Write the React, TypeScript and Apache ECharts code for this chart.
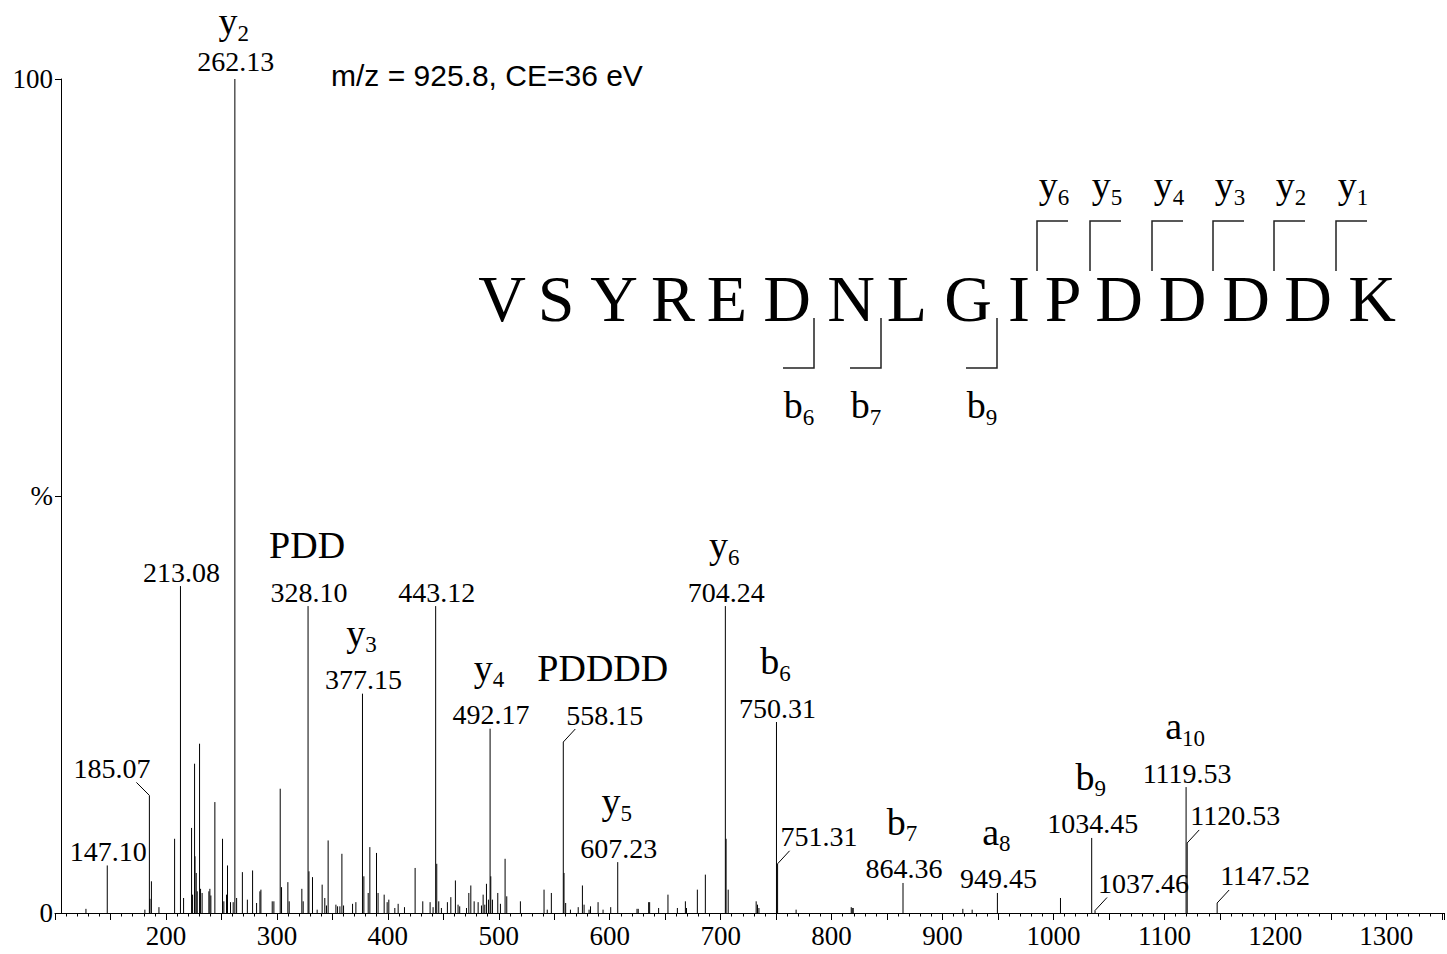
import React, { useEffect, useRef } from "react";
import * as echarts from "echarts";

// ---------------- data ----------------
const peakMz = [
  127.9, 147.1, 181.0, 185.07, 185.6, 186.9, 193.7, 207.8, 213.08, 215.9,
  223.1, 224.0, 225.8, 226.2, 227.3, 228.2, 230.3, 231.2, 232.6, 238.7,
  239.6, 240.5, 244.1, 251.0, 252.2, 254.6, 255.5, 258.2, 260.6, 262.13,
  263.7, 268.9, 273.4, 278.1, 281.7, 284.7, 285.6, 295.8, 297.3, 303.0,
  304.2, 309.9, 311.1, 322.5, 323.7, 328.1, 328.9, 332.1, 336.3, 340.8,
  343.2, 344.7, 346.2, 353.2, 354.7, 356.8, 358.6, 360.1, 368.2, 371.2,
  377.15, 378.4, 382.3, 383.8, 389.8, 391.2, 396.7, 399.4, 400.9, 406.3,
  409.3, 415.0, 424.6, 431.5, 438.1, 440.8, 443.12, 444.1, 445.9, 448.3,
  453.7, 456.8, 460.9, 463.3, 464.8, 470.9, 473.0, 474.8, 477.8, 481.4,
  484.4, 485.9, 487.4, 488.9, 490.7, 492.17, 492.8, 494.3, 499.1, 501.5,
  505.7, 507.2, 519.5, 540.8, 543.7, 547.4, 558.15, 558.8, 560.3, 564.6,
  571.6, 575.4, 576.9, 581.4, 582.7, 589.5, 594.0, 600.9, 607.23, 624.6,
  625.7, 635.1, 636.0, 644.1, 652.5, 661.0, 668.2, 669.2, 679.0, 686.2,
  704.24, 704.9, 706.8, 732.0, 733.2, 734.5, 750.31, 751.31, 768.0, 817.7,
  818.6, 819.5, 864.36, 918.3, 926.7, 949.45, 1006.3, 1034.45, 1037.46, 1119.53,
  1120.53, 1147.52,
];
const peakIntensity = [
  0.5, 5.7, 0.4, 14.1, 1.7, 3.8, 0.7, 8.9, 39.2, 1.8,
  10.2, 2.2, 17.9, 6.8, 4.8, 2.6, 20.3, 2.9, 2.4, 2.6,
  2.9, 2.1, 13.3, 8.9, 1.4, 2.2, 5.7, 1.3, 1.3, 100,
  1.8, 4.9, 1.6, 5.1, 1.2, 2.6, 2.8, 1.4, 1.4, 14.9,
  3.1, 3.7, 1.4, 2.9, 1.4, 36.8, 5.0, 4.3, 0.4, 3.4,
  1.8, 0.9, 8.7, 1.0, 0.8, 0.8, 7.1, 0.9, 1.1, 1.3,
  26.3, 4.4, 2.4, 7.9, 7.2, 2.4, 2.2, 1.3, 1.6, 0.6,
  1.1, 0.7, 5.4, 1.4, 1.3, 0.7, 36.8, 5.9, 1.4, 0.6,
  1.3, 1.9, 3.9, 1.0, 0.8, 0.6, 2.4, 3.3, 1.4, 1.3,
  0.9, 2.2, 1.0, 3.5, 1.6, 22.1, 4.4, 1.6, 2.4, 1.1,
  6.5, 2.0, 1.4, 2.8, 0.4, 2.4, 20.5, 4.8, 1.2, 0.4,
  0.7, 3.3, 1.0, 0.4, 0.8, 1.3, 0.4, 0.7, 6.1, 0.5,
  0.5, 1.3, 1.3, 0.6, 2.2, 0.6, 1.4, 0.6, 2.8, 4.6,
  36.8, 8.9, 2.8, 1.4, 1.0, 0.6, 22.9, 5.9, 0.4, 0.7,
  0.6, 0.6, 3.6, 0.5, 0.4, 2.4, 1.8, 9.0, 0.3, 15.1,
  8.4, 1.2,
];

const labelMz = [
  147.1, 185.07, 213.08, 262.13, 328.1, 377.15, 443.12, 492.17, 558.15, 607.23,
  704.24, 750.31, 751.31, 864.36, 949.45, 1034.45, 1037.46, 1119.53, 1120.53, 1147.52,
];
const labelIntensity = [
  5.7, 14.1, 39.2, 100, 36.8, 26.3, 36.8, 22.1, 20.5, 6.1,
  36.8, 22.9, 5.9, 3.6, 2.4, 9.0, 0.3, 15.1, 8.4, 1.2,
];
const labelText = [
  "147.10", "185.07", "213.08", "262.13", "328.10", "377.15", "443.12", "492.17", "558.15", "607.23",
  "704.24", "750.31", "751.31", "864.36", "949.45", "1034.45", "1037.46", "1119.53", "1120.53", "1147.52",
];
const ionName = ["", "", "", "y", "PDD", "y", "", "y", "PDDDD", "y", "y", "b", "", "b", "a", "b", "", "a", "", ""];
const ionSub = ["", "", "", "2", "", "3", "", "4", "", "5", "6", "6", "", "7", "8", "9", "", "10", "", ""];

const sequence = ["V", "S", "Y", "R", "E", "D", "N", "L", "G", "I", "P", "D", "D", "D", "D", "K"];
const yIonSubs = ["6", "5", "4", "3", "2", "1"];
const bIonSubs = ["6", "7", "9"];
const titleText = "m/z = 925.8, CE=36 eV";
const yTickLabels: Record<number, string> = { 0: "0", 50: "%", 100: "100" };

// ---------------- layout / style ----------------
const SERIF = '"Liberation Serif", "Times New Roman", serif';
const SANS = '"Liberation Sans", Arial, sans-serif';
const NUM_SIZE = 28;
const ION_SIZE = 38;
const SUB_SIZE = 23;
const SUB_DROP = 12;
const NUM_GAP = 14;
const ION_GAP = 47;
const LABEL_SHIFT: Record<string, "left" | "right"> = {
  "185.07": "left",
  "558.15": "right",
  "751.31": "right",
  "1037.46": "right",
  "1120.53": "right",
  "1147.52": "right",
};
// label near the top edge: slightly lifted number, tighter ion label
const LABEL_GAPS: Record<string, { num: number; ion: number }> = {
  "262.13": { num: 18, ion: 40 },
};
const letterX = [502, 556, 614, 673, 727, 787, 851, 907, 968, 1019, 1063, 1119, 1182.5, 1246, 1308, 1372];
const letterY = 298.5;
const yBracketX = [1037, 1090, 1152, 1213, 1274, 1336];
const bBracketX = [814, 881, 997];

let measureCtx: CanvasRenderingContext2D | null = null;
function textWidth(text: string, size: number, family: string) {
  if (!measureCtx) measureCtx = document.createElement("canvas").getContext("2d");
  if (!measureCtx) return text.length * size * 0.5;
  measureCtx.font = `${size}px ${family}`;
  return measureCtx.measureText(text).width;
}

function ionElements(name: string, sub: string, cx: number, cy: number) {
  const mainW = textWidth(name, ION_SIZE, SERIF);
  const subW = sub ? textWidth(sub, SUB_SIZE, SERIF) : 0;
  const left = cx - (mainW + subW) / 2;
  const els: any[] = [
    {
      type: "text",
      x: left,
      y: cy,
      style: { text: name, fontSize: ION_SIZE, fontFamily: SERIF, fill: "#000", align: "left", verticalAlign: "middle" },
    },
  ];
  if (sub) {
    els.push({
      type: "text",
      x: left + mainW,
      y: cy + SUB_DROP,
      style: { text: sub, fontSize: SUB_SIZE, fontFamily: SERIF, fill: "#000", align: "left", verticalAlign: "middle" },
    });
  }
  return els;
}

export default function App() {
  const ref = useRef<HTMLDivElement>(null);

  useEffect(() => {
    if (!ref.current) return;
    const chart = echarts.init(ref.current, null, { renderer: "svg" });

    const peaksData = peakMz.map((m, i) => [m, peakIntensity[i]]);
    const labelData = labelMz.map((m, i) => [m, labelIntensity[i]]);

    const graphics: any[] = [];
    graphics.push({
      type: "text",
      x: 331,
      y: 75,
      style: { text: titleText, fontSize: 30, fontFamily: SANS, fill: "#000", align: "left", verticalAlign: "middle" },
    });
    sequence.forEach((ch, i) => {
      graphics.push({
        type: "text",
        x: letterX[i],
        y: letterY,
        style: { text: ch, fontSize: 66, fontFamily: SERIF, fill: "#000", align: "center", verticalAlign: "middle" },
      });
    });
    yBracketX.forEach((vx, i) => {
      graphics.push({
        type: "polyline",
        shape: { points: [[vx, 271], [vx, 221], [vx + 31, 221]] },
        style: { stroke: "#222", lineWidth: 1.5, fill: null },
      });
      ionElements("y", yIonSubs[i], vx + 17, 185).forEach((e) => graphics.push(e));
    });
    bBracketX.forEach((vx, i) => {
      graphics.push({
        type: "polyline",
        shape: { points: [[vx, 318], [vx, 368], [vx - 31, 368]] },
        style: { stroke: "#222", lineWidth: 1.5, fill: null },
      });
      ionElements("b", bIonSubs[i], vx - 15, 405).forEach((e) => graphics.push(e));
    });

    chart.setOption({
      animation: false,
      backgroundColor: "#fff",
      textStyle: { fontFamily: SERIF, color: "#000" },
      grid: { left: 55, right: 2.3, top: 79, bottom: 41, containLabel: false },
      xAxis: {
        type: "value",
        min: 100,
        max: 1352,
        interval: 50,
        axisLine: { show: true, lineStyle: { color: "#000", width: 1 } },
        axisTick: { show: true, length: 7, lineStyle: { color: "#000", width: 1 } },
        minorTick: { show: true, splitNumber: 5, length: 3.5, lineStyle: { color: "#000", width: 1 } },
        splitLine: { show: false },
        minorSplitLine: { show: false },
        axisLabel: {
          formatter: (v: number) => (v % 100 === 0 && v >= 200 ? String(v) : ""),
          fontSize: 27,
          fontFamily: SERIF,
          color: "#000",
          margin: 9,
          hideOverlap: false,
        },
      },
      yAxis: {
        type: "value",
        min: 0,
        max: 100,
        interval: 50,
        offset: -6,
        axisLine: { show: true, lineStyle: { color: "#000", width: 1 } },
        axisTick: { show: true, length: 6, lineStyle: { color: "#000", width: 1 } },
        splitLine: { show: false },
        axisLabel: {
          formatter: (v: number) => yTickLabels[v] ?? "",
          fontSize: 27,
          fontFamily: SERIF,
          color: "#000",
          margin: 8,
        },
      },
      graphic: graphics,
      series: [
        {
          type: "custom",
          name: "peaks",
          data: peaksData,
          encode: { x: 0, y: 1 },
          silent: true,
          clip: false,
          renderItem: (params: any, api: any) => {
            const m = api.value(0);
            const v = api.value(1);
            const p0 = api.coord([m, 0]);
            const p1 = api.coord([m, v]);
            return {
              type: "line",
              shape: { x1: p0[0], y1: p0[1], x2: p1[0], y2: p1[1] },
              style: { stroke: "#000", lineWidth: 1 },
            };
          },
        },
        {
          type: "custom",
          name: "labels",
          data: labelData,
          encode: { x: 0, y: 1 },
          silent: true,
          clip: false,
          renderItem: (params: any, api: any) => {
            const i = params.dataIndex;
            const pt = api.coord([api.value(0), api.value(1)]);
            const txt = labelText[i];
            const shift = LABEL_SHIFT[txt];
            const gaps = LABEL_GAPS[txt] || { num: NUM_GAP, ion: ION_GAP };
            const w = textWidth(txt, NUM_SIZE, SERIF);
            const children: any[] = [];
            let cx: number;
            let cy: number;
            if (shift === "right") {
              children.push({
                type: "line",
                shape: { x1: pt[0], y1: pt[1], x2: pt[0] + 12, y2: pt[1] - 13 },
                style: { stroke: "#000", lineWidth: 1 },
              });
              cx = pt[0] + 3 + w / 2;
              cy = pt[1] - 27;
            } else if (shift === "left") {
              children.push({
                type: "line",
                shape: { x1: pt[0], y1: pt[1], x2: pt[0] - 13, y2: pt[1] - 13 },
                style: { stroke: "#000", lineWidth: 1 },
              });
              cx = pt[0] + 1 - w / 2;
              cy = pt[1] - 27;
            } else {
              cx = pt[0] + 1;
              cy = pt[1] - gaps.num;
            }
            children.push({
              type: "text",
              x: cx,
              y: cy,
              style: { text: txt, fontSize: NUM_SIZE, fontFamily: SERIF, fill: "#000", align: "center", verticalAlign: "middle" },
            });
            if (ionName[i]) {
              ionElements(ionName[i], ionSub[i], cx - 2, cy - gaps.ion).forEach((e) => children.push(e));
            }
            return { type: "group", children };
          },
        },
      ],
    });

    return () => {
      chart.dispose();
    };
  }, []);

  return (
    <div
      ref={ref}
      style={{ position: "fixed", left: 0, top: 0, width: 1447, height: 954, background: "#fff" }}
    />
  );
}
